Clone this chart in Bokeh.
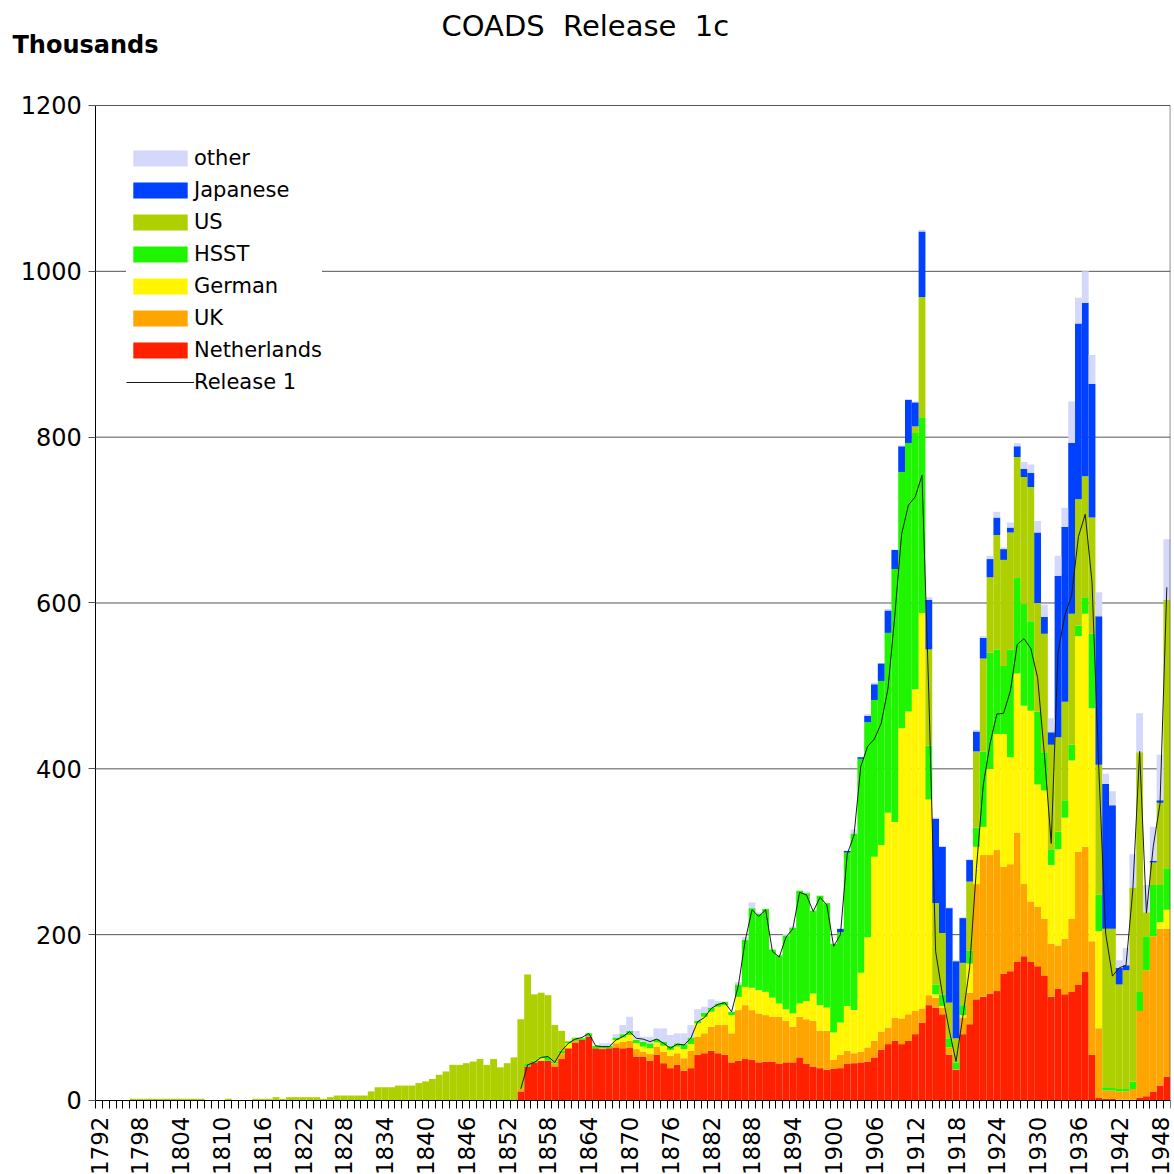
import math
from bokeh.plotting import figure
from bokeh.models import ColumnDataSource, FixedTicker, Legend, LegendItem, Label
from bokeh.embed import file_html
from bokeh.resources import INLINE

# ---------------- data (thousands of reports per year) ----------------
years = list(range(1792, 1950))

# rows: 1792-1799, then one row per decade
us = [0, 0, 0, 0, 0, 2, 2, 2,
      2, 2, 2, 2, 2, 2, 2, 2, 0, 0,
      0, 2, 0, 0, 0, 2, 2, 2, 4, 2,
      4, 4, 4, 4, 4, 2, 4, 6, 6, 6,
      6, 6, 11, 16, 16, 16, 18, 18, 18, 21,
      23, 26, 31, 35, 43, 43, 45, 47, 50, 43,
      50, 40, 45, 52, 84, 108, 80, 77, 74, 44,
      24, 1, 1, 0, 0, 0, 0, 0, 0, 0,
      0, 0, 0, 0, 0, 0, 0, 0, 0, 0,
      0, 0, 0, 0, 0, 0, 0, 0, 0, 0,
      0, 0, 0, 0, 0, 0, 0, 0, 0, 0,
      0, 0, 0, 0, 0, 0, 0, 0, 0, 0,
      0, 0, 8, 145, 116, 98, 74, 43, 29, 51,
      83, 92, 112, 91, 138, 128, 141, 146, 153, 162,
      131, 143, 126, 114, 119, 158, 152, 146, 140, 157,
      191, 192, 126, 143, 234, 289, 29, 27, 99, 324]

# the other series are zero before 1850; rows: one per decade from 1850
netherlands = [0] * 58 + [
      0, 0, 0, 0, 11, 41, 46, 48, 48, 41,
      50, 63, 70, 73, 77, 63, 62, 63, 64, 63,
      64, 53, 53, 48, 55, 45, 39, 43, 36, 39,
      55, 57, 60, 57, 55, 46, 48, 50, 49, 46,
      47, 47, 44, 46, 46, 52, 44, 41, 39, 37,
      38, 39, 44, 45, 46, 47, 52, 61, 68, 72,
      68, 72, 80, 94, 115, 112, 104, 55, 37, 80,
      92, 122, 125, 129, 132, 153, 156, 167, 174, 167,
      162, 150, 125, 135, 128, 131, 140, 155, 55, 3,
      2, 2, 1, 1, 1, 3, 5, 11, 18, 29]

uk = [0] * 58 + [
      0, 0, 0, 0, 3, 0, 0, 0, 0, 4,
      7, 0, 2, 0, 0, 0, 1, 0, 5, 8,
      8, 9, 6, 8, 10, 14, 15, 14, 15, 21,
      22, 24, 29, 34, 36, 35, 61, 65, 60, 59,
      56, 54, 57, 50, 43, 49, 54, 55, 45, 47,
      11, 16, 16, 12, 13, 17, 20, 22, 20, 28,
      31, 32, 28, 17, 12, 12, 8, 9, 1, 20,
      38, 139, 171, 167, 170, 129, 129, 156, 87, 73,
      72, 69, 64, 52, 67, 88, 160, 151, 137, 84,
      10, 10, 10, 10, 13, 105, 152, 187, 189, 178]

german = [0] * 58 + [
      0, 0, 0, 0, 0, 0, 0, 3, 0, 0,
      0, 6, 0, 0, 0, 0, 0, 0, 4, 5,
      7, 7, 6, 7, 5, 7, 7, 8, 11, 8,
      16, 20, 18, 22, 24, 22, 16, 22, 27, 28,
      28, 23, 16, 14, 16, 16, 22, 33, 31, 28,
      33, 39, 54, 52, 95, 133, 222, 225, 259, 236,
      350, 365, 388, 477, 236, 4, 2, 0, 0, 3,
      35, 45, 34, 104, 140, 160, 129, 192, 215, 230,
      147, 155, 95, 116, 146, 191, 260, 281, 281, 117,
      0, 0, 0, 0, 0, 0, 0, 0, 8, 23]

hsst = [0] * 58 + [
      0, 0, 0, 0, 0, 3, 2, 2, 5, 2,
      3, 2, 3, 2, 4, 3, 3, 3, 3, 4,
      5, 4, 6, 6, 4, 5, 5, 4, 6, 8,
      3, 5, 5, 4, 4, 4, 15, 57, 96, 92,
      100, 58, 58, 89, 103, 136, 130, 100, 132, 126,
      107, 109, 185, 213, 258, 259, 189, 198, 217, 305,
      309, 324, 309, 236, 65, 12, 14, 11, 8, 12,
      16, 23, 91, 140, 102, 82, 130, 115, 123, 108,
      88, 46, 19, 21, 21, 19, 13, 20, 90, 44,
      4, 3, 3, 3, 9, 23, 41, 62, 45, 50]

japanese = [0] * 58 + [
      0, 0, 0, 0, 0, 0, 0, 0, 0, 0,
      0, 0, 0, 0, 0, 0, 0, 0, 0, 0,
      0, 0, 0, 0, 0, 0, 0, 0, 0, 0,
      0, 0, 0, 0, 0, 0, 0, 0, 0, 0,
      0, 0, 0, 0, 0, 0, 0, 0, 0, 0,
      0, 4, 2, 0, 2, 8, 19, 21, 27, 23,
      31, 52, 29, 79, 60, 102, 104, 114, 93, 54,
      26, 24, 25, 22, 21, 13, 6, 13, 10, 17,
      85, 20, 15, 195, 211, 206, 212, 209, 161, 179,
      175, 149, 20, 6, 0, 0, 0, 2, 3, 0]

other = [0] * 58 + [
      0, 0, 0, 0, 0, 0, 0, 0, 0, 0,
      0, 0, 0, 0, 0, 0, 3, 3, 4, 11,
      17, 11, 6, 8, 13, 16, 13, 12, 13, 15,
      14, 7, 10, 3, 0, 0, 3, 3, 7, 2,
      0, 0, 0, 2, 2, 0, 2, 0, 0, 0,
      0, 0, 0, 5, 0, 2, 2, 0, 2, 0,
      1, 1, 1, 2, 3, 1, 1, 1, 1, 1,
      1, 2, 2, 4, 7, 2, 6, 4, 8, 10,
      14, 15, 17, 24, 23, 50, 31, 38, 35, 29,
      12, 17, 9, 21, 40, 47, 33, 41, 55, 73]

release_years = list(range(1854, 1950))
release1 = [14, 43, 46, 52, 53, 46,
            60, 69, 74, 76, 81, 66, 65, 65, 73, 77,
            83, 75, 74, 71, 74, 69, 63, 68, 67, 75,
            95, 100, 111, 116, 118, 107, 139, 193, 230, 222,
            230, 180, 173, 197, 207, 251, 248, 228, 245, 236,
            186, 200, 297, 320, 403, 427, 436, 455, 497, 585,
            683, 718, 728, 754, 490, 180, 128, 85, 47, 101,
            160, 280, 380, 430, 466, 467, 494, 550, 557, 545,
            510, 417, 310, 540, 585, 609, 680, 707, 625, 400,
            202, 150, 160, 163, 254, 421, 226, 306, 358, 619]

label_years = list(range(1792, 1950, 6))
y_ticks = [0, 200, 400, 600, 800, 1000, 1200]

series_names = ["Netherlands", "UK", "German", "HSST", "US", "Japanese", "other"]
series_colors = ["#FF2000", "#FFA500", "#FFF600", "#20F500", "#AED000", "#0040FF", "#D4D8FA"]

# ---------------- figure ----------------
FONT = "DejaVu Sans"
X0, X1 = years[0] - 0.5, years[-1] + 0.5        # extent of the bar area
Y_TOP = y_ticks[-1]

src = ColumnDataSource(data=dict(year=years, Netherlands=netherlands, UK=uk, German=german,
                                 HSST=hsst, US=us, Japanese=japanese, other=other))
line_src = ColumnDataSource(data=dict(year=release_years, release=release1))

# the frame fills the canvas so that titles and tick labels sit inside it;
# both axes are pinned to the edges of the bar area
p = figure(width=1174, height=1174, x_range=(1777.49, 1949.54), y_range=(-89.25, 1326.63),
           output_backend="svg", toolbar_location=None,
           min_border_left=0, min_border_right=4, min_border_top=0, min_border_bottom=0)
p.outline_line_color = None
p.background_fill_color = "white"
p.border_fill_color = "white"
p.xgrid.grid_line_color = None
p.ygrid.grid_line_color = None

# horizontal grid lines (under the bars), limited to the bar area
grid_src = ColumnDataSource(data=dict(y=y_ticks[1:], x0=[X0] * 6, x1=[X1] * 6))
p.segment(x0="x0", x1="x1", y0="y", y1="y", source=grid_src,
          line_color="#555555", line_width=1, level="underlay")

bars = p.vbar_stack(series_names, x="year", width=1.0, source=src,
                    fill_color=series_colors, line_color=None)
line_r = p.line(x="year", y="release", source=line_src, line_color="#1a1a1a", line_width=1)

# right border of the plot area
p.segment(x0=[X1], x1=[X1], y0=[0], y1=[Y_TOP], line_color="#555555", line_width=1)

# axes
p.xaxis.fixed_location = 0
p.xaxis.ticker = FixedTicker(ticks=label_years,
                             minor_ticks=[y - 0.5 for y in years] + [years[-1] + 0.5])
p.xaxis.bounds = (X0, X1)
p.xaxis.major_label_orientation = math.pi / 2
p.xaxis.major_tick_out = 0
p.xaxis.major_tick_in = 0
p.xaxis.minor_tick_out = 8
p.xaxis.minor_tick_in = 0
p.xaxis.minor_tick_line_color = "black"
p.xaxis.major_label_standoff = 8
p.xaxis.major_label_text_font = FONT
p.xaxis.major_label_text_font_size = "23px"
p.xaxis.major_label_text_color = "black"
p.xaxis.axis_line_color = "black"

p.yaxis.fixed_location = X0
p.yaxis.bounds = (0, Y_TOP)
p.yaxis.ticker = FixedTicker(ticks=y_ticks)
p.yaxis.major_tick_out = 7
p.yaxis.major_tick_in = 0
p.yaxis.minor_tick_line_color = None
p.yaxis.major_tick_line_color = "#555555"
p.yaxis.major_label_standoff = 7
p.yaxis.major_label_text_font = FONT
p.yaxis.major_label_text_font_size = "24px"
p.yaxis.major_label_text_color = "black"
p.yaxis.axis_line_color = "black"

# legend (top to bottom: other ... Netherlands, then the line)
items = [LegendItem(label=name, renderers=[r]) for name, r in zip(series_names[::-1], bars[::-1])]
items.append(LegendItem(label="Release 1", renderers=[line_r]))
legend = Legend(items=items, location=(126, 780), glyph_width=68, glyph_height=20,
                label_standoff=0, spacing=8, padding=6, margin=0,
                label_text_font=FONT, label_text_font_size="21px", label_text_color="black",
                background_fill_color="white", background_fill_alpha=1.0,
                border_line_color=None)
p.add_layout(legend)

# title texts (double spaces kept visible with a no-break space)
p.add_layout(Label(x=1863.5, y=1295.3, x_units="data", y_units="data",
                   text="COADS\u00a0 Release\u00a0 1c", text_align="center", text_baseline="middle",
                   text_font=FONT, text_font_size="29px", text_color="black"))
p.add_layout(Label(x=1779.25, y=1272.4, x_units="data", y_units="data",
                   text="Thousands", text_align="left", text_baseline="middle",
                   text_font=FONT, text_font_size="24px", text_font_style="bold",
                   text_color="black"))

open("out.html", "w").write(file_html(p, INLINE))
